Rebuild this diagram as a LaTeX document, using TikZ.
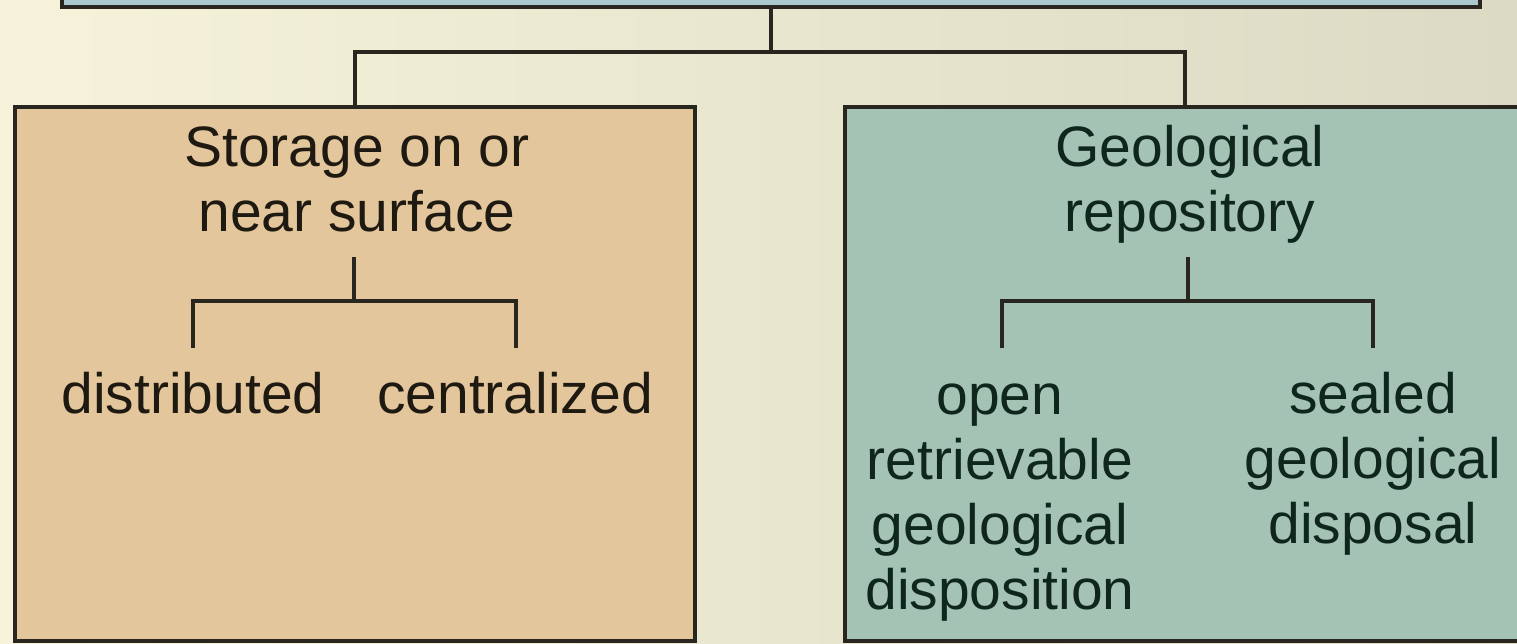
\documentclass[tikz,border=0pt]{standalone}
\usepackage{fontspec}
\setmainfont{Liberation Sans}
\definecolor{bgL}{RGB}{246,243,218}
\definecolor{bgR}{RGB}{220,218,196}
\definecolor{topfill}{RGB}{170,201,206}
\definecolor{leftfill}{RGB}{227,198,155}
\definecolor{rightfill}{RGB}{164,195,181}
\definecolor{linec}{RGB}{40,38,30}
\definecolor{ltext}{RGB}{30,26,18}
\definecolor{rtext}{RGB}{14,38,28}
\begin{document}
\begin{tikzpicture}[x=1pt,y=-1pt,
  boxstyle/.style={draw=linec, line width=3.5pt, rectangle, inner sep=0pt},
  conn/.style={draw=linec, line width=3.2pt},
  lbl/.style={inner sep=0pt, align=center, anchor=base, font=\fontsize{57}{65}\selectfont}]
\useasboundingbox (0,0) rectangle (1517,644);
\shade[left color=bgL, right color=bgR] (0,0) rectangle (1517,644);
% boxes
\node[boxstyle, fill=topfill, minimum width=1418pt, minimum height=60pt] (root) at (771,-23) {};
\node[boxstyle, fill=leftfill, minimum width=680pt, minimum height=534pt] (left) at (355,374) {};
\node[boxstyle, fill=rightfill, minimum width=680pt, minimum height=534pt] (right) at (1185,374) {};
% top connectors
\coordinate (j) at (771,52);
\draw[conn] (root.south) -- (j);
\draw[conn] (left.north) |- (j) -| (right.north);
% left box text (base anchor = baseline of last line)
\node[lbl, text=ltext] (ltitle) at (357,232) {Storage on or\\near surface};
\node[lbl, text=ltext] (ldist) at (193,413) {distributed};
\node[lbl, text=ltext] (lcent) at (515,413) {centralized};
\coordinate (lt) at (354,257);
\coordinate (lb) at (354,301);
\coordinate (ldt) at (193,348);
\coordinate (lct) at (516,348);
\draw[conn] (lt) -- (lb);
\draw[conn] (ldt) |- (lb) -| (lct);
% right box text
\node[lbl, text=rtext] (rtitle) at (1190,232) {Geological\\repository};
\node[lbl, text=rtext] (ropen) at (1000,609) {open\\retrievable\\geological\\disposition};
\node[lbl, text=rtext] (rseal) at (1373,543) {sealed\\geological\\disposal};
\coordinate (rt) at (1188,257);
\coordinate (rb) at (1188,301);
\coordinate (rot) at (1002,348);
\coordinate (rst) at (1373,348);
\draw[conn] (rt) -- (rb);
\draw[conn] (rot) |- (rb) -| (rst);
\end{tikzpicture}
\end{document}
